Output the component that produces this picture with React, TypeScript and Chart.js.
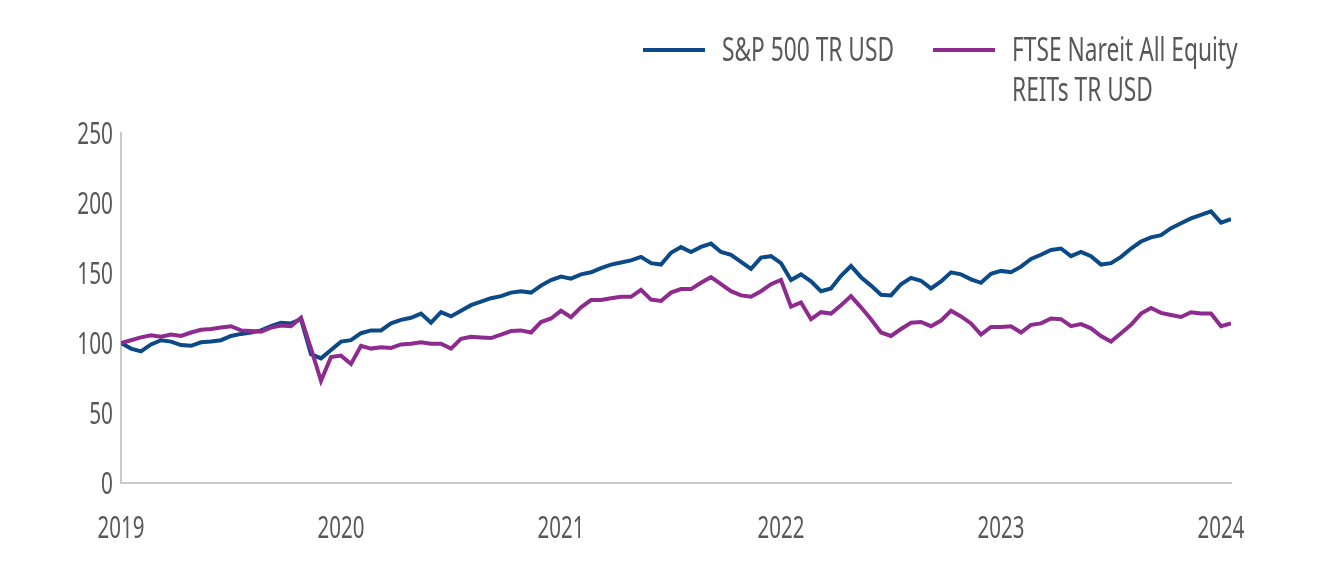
import React, { useEffect, useRef } from "react";
import { Chart, registerables } from "chart.js";

Chart.register(...registerables);

// Tick labels (years)
const yearTicks = [2019, 2020, 2021, 2022, 2023, 2024];
const pointsPerYear = 22;

// Series names
const seriesNames = ["S&P 500 TR USD", "FTSE Nareit All Equity REITs TR USD"];
const legendLines = [["S&P 500 TR USD"], ["FTSE Nareit All Equity", "REITs TR USD"]];

// S&P 500 TR USD (indexed to 100)
const sp500 = [
  100, 96, 94, 99, 102, 101, 98.5, 98, 100.5, 101, 102, 105, 106.5, 107.5, 109, 112,
  114.5, 114, 117, 92, 89, 95, 101, 102, 107, 109, 109, 114, 116.5, 118, 121, 114.5,
  122, 119, 123, 127, 129.5, 132, 133.5, 136, 137, 136, 141, 145, 147.5, 146, 149,
  150.5, 153.5, 156, 157.5, 159, 161.5, 157, 156, 164.5, 168.5, 165, 168.6, 171, 165,
  163, 158, 153, 161, 162, 157, 145, 149, 144, 137, 139, 148, 155, 147, 141, 134.5,
  134, 142, 146.5, 144.5, 139, 144, 150.5, 149, 145.5, 143, 149.5, 151.5, 150.5, 154.5,
  160, 163, 166.5, 167.5, 162, 165, 162, 156, 157, 161.5, 167.5, 172.5, 175.5, 177,
  182, 185.5, 189, 191.5, 194, 186, 188.5,
];

// FTSE Nareit All Equity REITs TR USD (indexed to 100)
const reits = [
  100, 102, 104, 105.5, 104.5, 106, 105, 107.5, 109.5, 110, 111, 112, 109, 108.5, 108,
  111, 112.5, 112, 118, 96, 73, 90, 91, 85, 98, 96, 97, 96.5, 99, 99.5, 100.5, 99.5,
  99.5, 96, 103, 104.5, 104, 103.5, 106, 108.5, 109, 107.5, 115, 117.5, 123, 118.5,
  125.5, 130.7, 130.7, 132, 133, 133, 138, 131, 130, 136, 138.5, 138.5, 143, 147, 142,
  137, 134, 133, 137, 142, 145, 126, 129, 117, 122, 121, 127, 133.5, 125.5, 117, 107.5,
  105, 110, 114.5, 115, 112, 116, 123, 119, 114, 106, 111.5, 111.5, 112, 107.5, 113,
  114, 117.5, 117, 112, 113.5, 110.5, 105, 101, 107, 113, 121, 125, 121.5, 120, 118.6,
  122, 121, 121, 112, 114,
];

const yTicks = [0, 50, 100, 150, 200, 250];

const BLUE = "#0c4a87";
const PURPLE = "#8e2b8f";
const TEXT = "#585858";
const AXIS = "#c9c9c9";
const FONT_FAMILY = '"Noto Sans", "Open Sans", sans-serif';
const CAP = 0.714; // cap height ratio of Noto Sans

const toXY = (arr: number[]) =>
  arr.map((v, i) => ({ x: yearTicks[0] + i / pointsPerYear, y: v }));

function drawText(
  ctx: CanvasRenderingContext2D,
  text: string,
  x: number,
  cy: number,
  align: "left" | "right" | "center",
  size: number,
  sx: number
) {
  ctx.save();
  ctx.font = `${size}px ${FONT_FAMILY}`;
  ctx.fillStyle = TEXT;
  ctx.textAlign = "left";
  ctx.textBaseline = "alphabetic";
  const w = ctx.measureText(text).width * sx;
  const left = align === "right" ? x - w : align === "center" ? x - w / 2 : x;
  ctx.translate(left, cy + (size * CAP) / 2);
  ctx.scale(sx, 1);
  ctx.fillText(text, 0, 0);
  ctx.restore();
}

const textPlugin = {
  id: "condensedText",
  afterDraw(chart: any) {
    const ctx = chart.ctx as CanvasRenderingContext2D;
    const xs = chart.scales.x;
    const ys = chart.scales.y;
    // y tick labels
    yTicks.forEach((v) => {
      drawText(ctx, String(v), xs.left - 8, ys.getPixelForValue(v), "right", 31, 0.67);
    });
    // x tick labels
    yearTicks.forEach((v) => {
      drawText(ctx, String(v), xs.getPixelForValue(v), ys.bottom + 44, "center", 31, 0.66);
    });
    // legend
    const items = [
      { color: BLUE, x: 643, lines: legendLines[0] },
      { color: PURPLE, x: 933, lines: legendLines[1] },
    ];
    ctx.save();
    ctx.lineWidth = 4;
    items.forEach((it) => {
      ctx.strokeStyle = it.color;
      ctx.beginPath();
      ctx.moveTo(it.x, 50);
      ctx.lineTo(it.x + 62, 50);
      ctx.stroke();
    });
    ctx.restore();
    items.forEach((it) => {
      it.lines.forEach((ln, k) => drawText(ctx, ln, it.x + 79, 50 + k * 40, "left", 32, 0.71));
    });
  },
};

export default function App() {
  const ref = useRef<HTMLCanvasElement>(null);
  useEffect(() => {
    document.body.style.margin = "0";
    const canvas = ref.current!;
    const chart = new Chart(canvas, {
      type: "line",
      data: {
        datasets: [
          {
            label: seriesNames[0],
            data: toXY(sp500),
            borderColor: BLUE,
            borderWidth: 4,
            pointRadius: 0,
            tension: 0,
            order: 2,
          },
          {
            label: seriesNames[1],
            data: toXY(reits),
            borderColor: PURPLE,
            borderWidth: 4,
            pointRadius: 0,
            tension: 0,
            order: 1,
          },
        ],
      },
      options: {
        animation: false,
        responsive: false,
        maintainAspectRatio: false,
        layout: { padding: { top: 133, right: 101, left: 0, bottom: 0 } },
        plugins: { legend: { display: false }, tooltip: { enabled: false } },
        scales: {
          x: {
            type: "linear",
            min: yearTicks[0],
            max: yearTicks[0] + (sp500.length - 1) / pointsPerYear,
            grid: { display: false, drawTicks: false },
            border: { display: true, color: AXIS, width: 2 },
            afterBuildTicks: (scale: any) => {
              scale.ticks = yearTicks.map((v) => ({ value: v }));
            },
            afterFit: (scale: any) => {
              scale.height = 94;
            },
            ticks: { display: false },
          },
          y: {
            min: 0,
            max: 250,
            grid: { display: false, drawTicks: false },
            border: { display: true, color: AXIS, width: 2 },
            afterBuildTicks: (scale: any) => {
              scale.ticks = yTicks.map((v) => ({ value: v }));
            },
            afterFit: (scale: any) => {
              scale.width = 121;
            },
            ticks: { display: false },
          },
        },
      },
      plugins: [textPlugin],
    });
    return () => chart.destroy();
  }, []);
  return (
    <div style={{ width: 1332, height: 577 }}>
      <canvas ref={ref} width={1332} height={577} style={{ display: "block" }} />
    </div>
  );
}
